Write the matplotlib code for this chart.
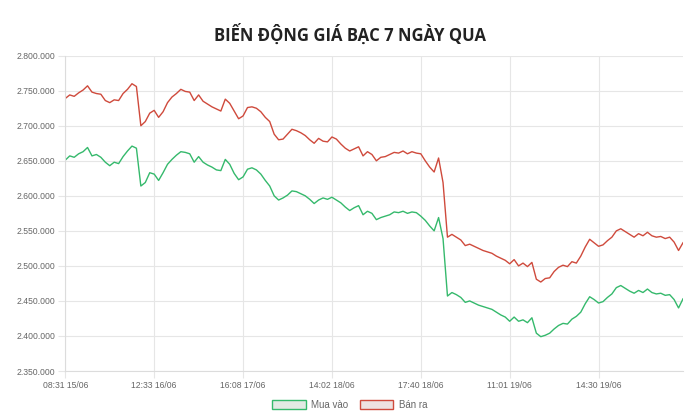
import matplotlib
matplotlib.use("Agg")
import matplotlib.pyplot as plt
from matplotlib.patches import Patch
from matplotlib.ticker import FuncFormatter, MultipleLocator

# ── Data (thousand VND) ───────────────────────────────────────
tick_labels = ["08:31 15/06", "12:33 16/06", "16:08 17/06", "14:02 18/06",
               "17:40 18/06", "11:01 19/06", "14:30 19/06"]
points_per_tick = 20

mua_vao = [
    2651, 2657, 2655, 2660, 2663, 2669, 2657, 2659, 2655, 2648,
    2643, 2648, 2646, 2656, 2664, 2671, 2668, 2614, 2619, 2633,
    2631, 2622, 2633, 2645, 2652, 2658, 2663, 2662, 2660, 2648,
    2656, 2648, 2644, 2641, 2637, 2636, 2652, 2645, 2632, 2623,
    2627, 2638, 2640, 2637, 2631, 2622, 2614, 2600, 2594, 2597,
    2601, 2607, 2606, 2603, 2600, 2595, 2589, 2594, 2597, 2595,
    2598, 2594, 2590, 2584, 2579, 2583, 2586, 2573, 2578, 2575,
    2566, 2569, 2571, 2573, 2577, 2576, 2578, 2575, 2577, 2576,
    2571, 2565, 2557, 2550, 2569, 2539, 2457, 2462, 2459, 2455,
    2448, 2450, 2447, 2444, 2442, 2440, 2438, 2434, 2430, 2427,
    2421, 2427, 2421, 2423, 2419, 2426, 2404, 2399, 2401, 2404,
    2410, 2415, 2418, 2417, 2424, 2428, 2434, 2446, 2456, 2452,
    2447, 2449, 2455, 2460, 2469, 2472, 2468, 2464, 2461, 2465,
    2462, 2467, 2462, 2460, 2461, 2458, 2459, 2452, 2440, 2453,
]

ban_ra = [
    2739, 2744, 2742, 2747, 2751, 2757, 2748, 2746, 2745, 2736,
    2733, 2737, 2736, 2746, 2752, 2760, 2756, 2700, 2706, 2718,
    2722, 2712, 2720, 2733, 2741, 2746, 2752, 2749, 2748, 2736,
    2744, 2735, 2731, 2727, 2724, 2721, 2738, 2732, 2721, 2710,
    2714, 2726, 2727, 2725, 2720, 2712, 2706, 2688, 2680, 2681,
    2688, 2695, 2693, 2690, 2686, 2680, 2675, 2682, 2678, 2677,
    2684, 2681, 2674, 2668, 2664, 2667, 2670, 2657, 2663, 2659,
    2650, 2655, 2656, 2659, 2662, 2661, 2664, 2660, 2663, 2661,
    2660, 2650, 2641, 2634, 2654, 2619, 2541, 2545, 2541, 2537,
    2529, 2531, 2528, 2525, 2522, 2520, 2518, 2514, 2511, 2508,
    2503, 2509, 2500, 2504, 2499, 2505, 2481, 2477, 2482, 2483,
    2492, 2498, 2501, 2499, 2506, 2504, 2514, 2527, 2538, 2533,
    2528, 2530, 2536, 2541, 2550, 2553, 2549, 2545, 2541, 2546,
    2543, 2548, 2543, 2541, 2542, 2539, 2541, 2534, 2522, 2533,
]

# ── Style ─────────────────────────────────────────────────────
GREEN = "#35b96c"
RED = "#cf4a3c"
GRID = "#e6e6e6"
TICK = "#666666"

plt.rcParams["font.family"] = ["Liberation Sans", "DejaVu Sans"]

fig = plt.figure(figsize=(7, 4.15), dpi=100)
ax = fig.add_axes([0.0933, 0.106, 0.8824, 0.7598])

x = list(range(len(mua_vao)))
ax.plot(x, mua_vao, color=GREEN, linewidth=1.0)
ax.plot(x, ban_ra, color=RED, linewidth=1.0)

ax.set_xlim(0, len(x) - 1)
ax.set_ylim(2350, 2800)
ax.yaxis.set_major_locator(MultipleLocator(50))
ax.yaxis.set_major_formatter(
    FuncFormatter(lambda v, p: f"{int(round(v * 1000)):,}".replace(",", ".")))
ax.set_xticks([i * points_per_tick for i in range(len(tick_labels))])
ax.set_xticklabels(tick_labels)

ax.tick_params(axis="both", colors=GRID, labelcolor=TICK, labelsize=6.2,
               length=5, width=0.8, pad=2)
ax.grid(True, color=GRID, linewidth=0.8)
ax.set_axisbelow(True)
for side in ("top", "right"):
    ax.spines[side].set_visible(False)
for side in ("left", "bottom"):
    ax.spines[side].set_color("#dcdcdc")
    ax.spines[side].set_linewidth(0.8)

fig.text(0.5, 1 - 34 / 415, "BIẾN ĐỘNG GIÁ BẠC 7 NGÀY QUA", ha="center", va="center",
         fontsize=12, fontweight="bold", color="#222222",
         family=["Open Sans", "DejaVu Sans"])

handles = [Patch(facecolor="#e2eae4", edgecolor=GREEN, linewidth=1.0, label="Mua vào"),
           Patch(facecolor="#eee1e0", edgecolor=RED, linewidth=1.0, label="Bán ra")]
fig.legend(handles=handles, loc="center", bbox_to_anchor=(0.5, 1 - 405 / 415),
           ncol=2, frameon=False, fontsize=7, labelcolor=TICK,
           handlelength=3.4, handleheight=1.0, columnspacing=1.2, handletextpad=0.6)

fig.savefig("out.png", dpi=100)
